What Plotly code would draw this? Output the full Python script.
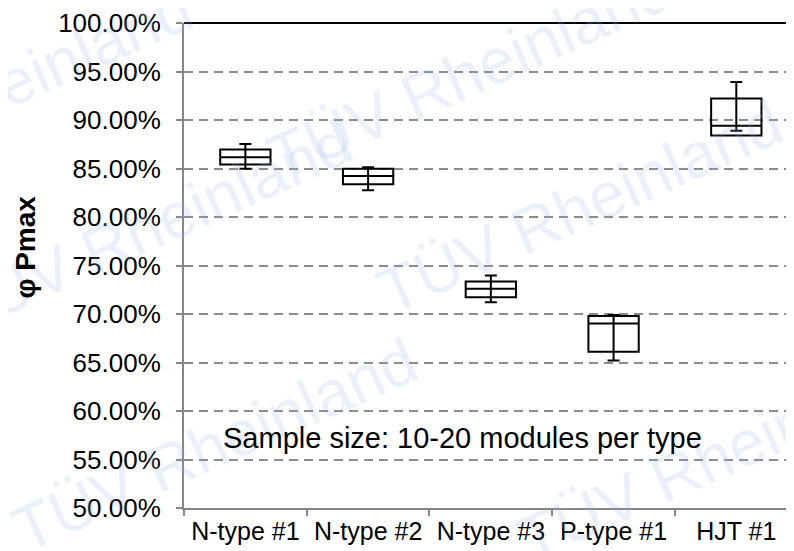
import plotly.graph_objects as go

categories = ["N-type #1", "N-type #2", "N-type #3", "P-type #1", "HJT #1"]
whisker_max = [87.53, 85.14, 73.98, 69.90, 93.92]
q3 = [86.96, 84.97, 73.36, 69.80, 92.21]
median = [86.17, 84.22, 72.61, 69.03, 89.42]
q1 = [85.42, 83.37, 71.72, 66.12, 88.39]
whisker_min = [84.97, 82.76, 71.21, 65.20, 88.90]

y_ticks = [50, 55, 60, 65, 70, 75, 80, 85, 90, 95, 100]
annotation_text = "Sample size: 10-20 modules per type"
y_title = "φ Pmax"
watermark = "TÜV Rheinland"

FONT = "Liberation Sans, Arial, sans-serif"
OFF = 8  # default page body margin
W, H = 794 - OFF, 551 - OFF
# plot area in screen pixels
SL, SR, ST, SB = 184, 794, 20, 508


def px(x):
    return (x - SL) / (SR - SL)


def py(y):
    return (SB - y) / (SB - ST)


fig = go.Figure()

# watermark (faint, behind everything)
wm_pos = [(-10, 90), (470, 70), (150, 225), (580, 205), (215, 445), (720, 455)]
for (wx, wy) in wm_pos:
    fig.add_annotation(
        x=px(wx), y=py(wy), xref="paper", yref="paper",
        text=watermark, showarrow=False, textangle=-24,
        font=dict(family=FONT, size=64, color="rgba(150,180,230,0.20)"),
        xanchor="center", yanchor="middle",
    )

fig.add_trace(go.Box(
    x=categories,
    q1=q1, median=median, q3=q3,
    lowerfence=q1, upperfence=q3,
    fillcolor="rgba(255,255,255,0)",
    line=dict(color="black", width=2),
    width=0.41,
    hoverinfo="skip",
    showlegend=False,
))

err_plus = [hi - m for hi, m in zip(whisker_max, median)]
err_minus = [m - lo for lo, m in zip(whisker_min, median)]
fig.add_trace(go.Scatter(
    x=categories, y=median, mode="markers",
    marker=dict(size=1, color="rgba(0,0,0,0)"),
    error_y=dict(type="data", symmetric=False, array=err_plus, arrayminus=err_minus,
                 color="black", thickness=2, width=6),
    hoverinfo="skip", showlegend=False,
))

# top border line at 100%
fig.add_shape(type="line", xref="paper", yref="paper", x0=0, x1=1, y0=1, y1=1,
              line=dict(color="black", width=2), layer="above")

fig.add_annotation(
    x=px(462), y=py(438), xref="paper", yref="paper",
    text=annotation_text, showarrow=False,
    font=dict(family=FONT, size=29, color="black"),
    xanchor="center", yanchor="middle",
)
fig.add_annotation(
    x=px(26), y=py(246), xref="paper", yref="paper",
    text="<b>" + y_title + "</b>", showarrow=False, textangle=-90,
    font=dict(family=FONT, size=28, color="black"),
    xanchor="center", yanchor="middle",
)

fig.update_layout(
    width=W, height=H,
    margin=dict(l=SL - OFF, r=0, t=ST - OFF, b=H - (SB - OFF)),
    paper_bgcolor="white", plot_bgcolor="white",
    font=dict(family=FONT, size=25, color="black"),
    showlegend=False,
    xaxis=dict(
        type="category", range=[-0.5, 4.47],
        showline=True, linecolor="#868686", linewidth=2,
        ticks="outside", tickson="boundaries", ticklen=6, tickcolor="#868686", tickwidth=2,
        showgrid=False, zeroline=False, ticklabeloverflow="allow",
        tickfont=dict(family=FONT, size=25, color="black"),
    ),
    yaxis=dict(
        range=[50, 100], tickvals=y_ticks,
        ticktext=[f"{v:.2f}%" for v in y_ticks],
        showline=True, linecolor="#868686", linewidth=2,
        ticks="outside", ticklen=6, tickcolor="#868686", tickwidth=2,
        showgrid=True, gridcolor="#8c8c8c", gridwidth=2, griddash="9px,6px",
        zeroline=False, ticklabelstandoff=10, ticklabeloverflow="allow",
        tickfont=dict(family=FONT, size=26, color="black"),
    ),
)

fig.write_html("out.html")
